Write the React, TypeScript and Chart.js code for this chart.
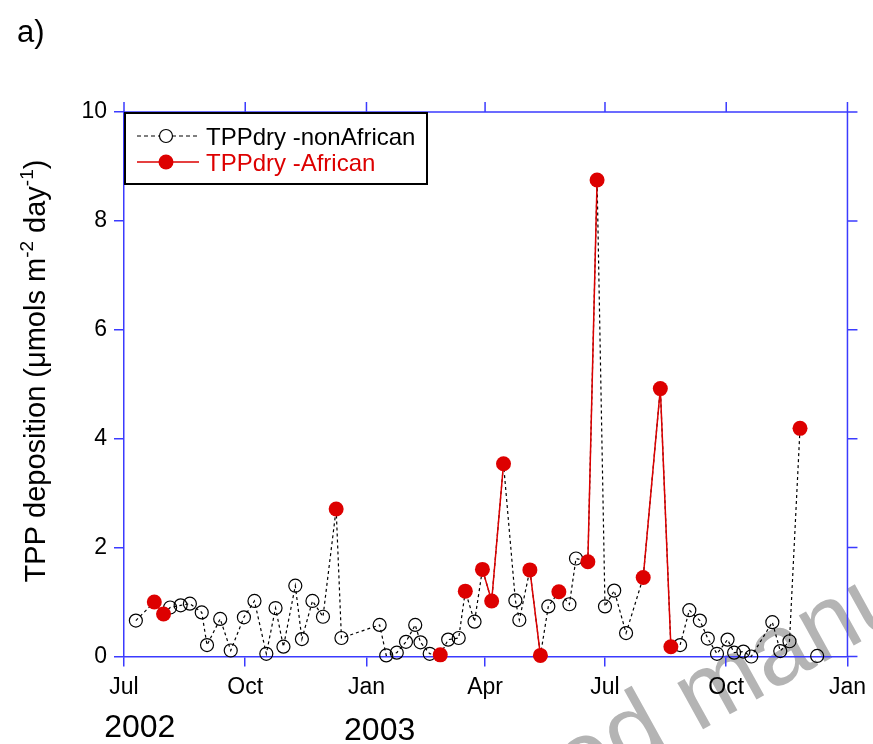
import React, { useEffect, useRef } from "react";
import { Chart, registerables } from "chart.js";

Chart.register(...registerables);

// ---- data ----
const sampleDates = [
  "2002-07-10", "2002-07-24", "2002-07-31", "2002-08-05", "2002-08-13", "2002-08-20",
  "2002-08-29", "2002-09-02", "2002-09-12", "2002-09-20", "2002-09-30", "2002-10-08",
  "2002-10-17", "2002-10-24", "2002-10-30", "2002-11-08", "2002-11-13", "2002-11-21",
  "2002-11-29", "2002-12-09", "2002-12-13", "2003-01-11", "2003-01-16", "2003-01-24",
  "2003-01-31", "2003-02-07", "2003-02-11", "2003-02-18", "2003-02-26", "2003-03-04",
  "2003-03-12", "2003-03-17", "2003-03-24", "2003-03-30", "2003-04-06", "2003-04-15",
  "2003-04-24", "2003-04-27", "2003-05-05", "2003-05-13", "2003-05-19", "2003-05-27",
  "2003-06-04", "2003-06-09", "2003-06-18", "2003-06-25", "2003-07-01", "2003-07-08",
  "2003-07-17", "2003-07-30", "2003-08-12", "2003-08-20", "2003-08-27", "2003-09-03",
  "2003-09-11", "2003-09-17", "2003-09-24", "2003-10-02", "2003-10-07", "2003-10-14",
  "2003-10-20", "2003-11-05", "2003-11-11", "2003-11-18", "2003-11-26", "2003-12-09",
];
const tppValues = [
  0.66, 1.0, 0.78, 0.9, 0.94, 0.97,
  0.81, 0.21, 0.69, 0.11, 0.72, 1.02,
  0.05, 0.89, 0.18, 1.3, 0.32, 1.02,
  0.73, 2.71, 0.34, 0.58, 0.02, 0.07,
  0.27, 0.58, 0.26, 0.05, 0.03, 0.31,
  0.34, 1.2, 0.64, 1.6, 1.02, 3.54,
  1.03, 0.67, 1.59, 0.02, 0.92, 1.19,
  0.96, 1.8, 1.74, 8.75, 0.92, 1.21,
  0.43, 1.45, 4.92, 0.18, 0.21, 0.85,
  0.66, 0.33, 0.05, 0.31, 0.07, 0.09,
  0.0, 0.63, 0.1, 0.28, 4.19, 0.01,
];
// 1 = African air-mass sample
const africanFlags = [
  0, 1, 1, 0, 0, 0,
  0, 0, 0, 0, 0, 0,
  0, 0, 0, 0, 0, 0,
  0, 1, 0, 0, 0, 0,
  0, 0, 0, 0, 1, 0,
  0, 1, 0, 1, 1, 1,
  0, 0, 1, 1, 0, 1,
  0, 0, 1, 1, 0, 0,
  0, 1, 1, 1, 0, 0,
  0, 0, 0, 0, 0, 0,
  0, 0, 0, 0, 1, 0,
];
// index of samples where the dotted line is interrupted before the point
const lineBreaksBefore = [65];

const originDate = "2002-07-01";
const xTickDates = ["2002-07-01", "2002-10-01", "2003-01-01", "2003-04-01", "2003-07-01", "2003-10-01", "2004-01-01"];
const xTickLabels = ["Jul", "Oct", "Jan", "Apr", "Jul", "Oct", "Jan"];
const yearLabels = ["2002", "2003"];
const yearLabelDates = ["2002-07-13", "2003-01-11"];
const yMin = 0;
const yMax = 10;
const yStep = 2;

const seriesNames = ["TPPdry -nonAfrican", "TPPdry -African"];
const yTitleParts = [
  { t: "TPP deposition (\u03bcmols m", sup: false },
  { t: "-2", sup: true },
  { t: " day", sup: false },
  { t: "-1", sup: true },
  { t: ")", sup: false },
];

// ---- styling ----
const FONT = "'Liberation Sans', Arial, sans-serif";
const BLUE = "#3b3bff";
const RED = "#dd0000";

function dayOf(s: string) {
  const [y, m, d] = s.split("-").map(Number);
  const [y0, m0, d0] = originDate.split("-").map(Number);
  return Math.round((Date.UTC(y, m - 1, d) - Date.UTC(y0, m0 - 1, d0)) / 86400000);
}

const xTickDays = xTickDates.map(dayOf);

function buildData() {
  const black: any[] = [];
  const blackRadius: number[] = [];
  const red: any[] = [];
  sampleDates.forEach((d, i) => {
    const x = dayOf(d);
    if (lineBreaksBefore.includes(i)) {
      const px = dayOf(sampleDates[i - 1]);
      black.push({ x: (x + px) / 2, y: null });
      blackRadius.push(0);
    }
    black.push({ x, y: tppValues[i] });
    blackRadius.push(africanFlags[i] ? 0 : 6.5);
    red.push({ x, y: africanFlags[i] ? tppValues[i] : null });
  });
  return { black, blackRadius, red };
}

const decorPlugin = {
  id: "decor",
  beforeDraw(chart: any) {
    const ctx = chart.ctx;
    ctx.save();
    ctx.fillStyle = "#ffffff";
    ctx.fillRect(0, 0, chart.width, chart.height);
    // watermark
    ctx.translate(308, 948);
    ctx.rotate((-29 * Math.PI) / 180);
    ctx.font = `100px ${FONT}`;
    ctx.fillStyle = "#b4b4b4";
    ctx.textBaseline = "alphabetic";
    ctx.fillText("Accepted manuscript", 0, 0);
    ctx.restore();
  },
  afterDraw(chart: any) {
    const ctx = chart.ctx;
    const { left, right, top, bottom } = chart.chartArea;
    const xs = chart.scales.x;
    const ys = chart.scales.y;
    ctx.save();
    // top and right axes
    ctx.strokeStyle = BLUE;
    ctx.lineWidth = 1.5;
    ctx.beginPath();
    ctx.moveTo(left, top);
    ctx.lineTo(right, top);
    ctx.moveTo(right, top);
    ctx.lineTo(right, bottom);
    xTickDays.forEach((d) => {
      const px = xs.getPixelForValue(d);
      ctx.moveTo(px, top);
      ctx.lineTo(px, top - 10);
    });
    for (let v = yMin; v <= yMax; v += yStep) {
      const py = ys.getPixelForValue(v);
      ctx.moveTo(right, py);
      ctx.lineTo(right + 10, py);
    }
    ctx.stroke();

    // y title
    ctx.fillStyle = "#000";
    ctx.textBaseline = "alphabetic";
    const mainFont = `29px ${FONT}`;
    const supFont = `19px ${FONT}`;
    let total = 0;
    yTitleParts.forEach((p) => {
      ctx.font = p.sup ? supFont : mainFont;
      total += ctx.measureText(p.t).width;
    });
    ctx.save();
    ctx.translate(45, 371);
    ctx.rotate(-Math.PI / 2);
    let cx = -total / 2;
    yTitleParts.forEach((p) => {
      ctx.font = p.sup ? supFont : mainFont;
      ctx.fillText(p.t, cx, p.sup ? -12 : 0);
      cx += ctx.measureText(p.t).width;
    });
    ctx.restore();

    // panel label
    ctx.font = `31px ${FONT}`;
    ctx.textAlign = "left";
    ctx.fillText("a)", 17, 42);

    // year labels
    ctx.font = `32px ${FONT}`;
    ctx.textAlign = "center";
    yearLabels.forEach((lab, i) => {
      const px = xs.getPixelForValue(dayOf(yearLabelDates[i]));
      ctx.fillText(lab, px, 737 + i * 3);
    });

    // legend
    const lx = left, ly = top, lw = 303, lh = 72;
    ctx.fillStyle = "#fff";
    ctx.fillRect(lx, ly, lw, lh);
    ctx.strokeStyle = "#000";
    ctx.lineWidth = 2;
    ctx.strokeRect(lx + 1, ly + 1, lw - 1, lh - 1);
    // entry 1
    ctx.lineWidth = 1.2;
    ctx.setLineDash([4, 3]);
    ctx.beginPath();
    ctx.moveTo(lx + 13, ly + 24);
    ctx.lineTo(lx + 75, ly + 24);
    ctx.stroke();
    ctx.setLineDash([]);
    ctx.beginPath();
    ctx.arc(lx + 42, ly + 24, 6.5, 0, Math.PI * 2);
    ctx.fillStyle = "#fff";
    ctx.fill();
    ctx.stroke();
    ctx.font = `24px ${FONT}`;
    ctx.textAlign = "left";
    ctx.fillStyle = "#000";
    ctx.fillText(seriesNames[0], lx + 82, ly + 33);
    // entry 2
    ctx.strokeStyle = RED;
    ctx.lineWidth = 1.5;
    ctx.beginPath();
    ctx.moveTo(lx + 13, ly + 50);
    ctx.lineTo(lx + 75, ly + 50);
    ctx.stroke();
    ctx.beginPath();
    ctx.arc(lx + 42, ly + 50, 7.5, 0, Math.PI * 2);
    ctx.fillStyle = RED;
    ctx.fill();
    ctx.fillText(seriesNames[1], lx + 82, ly + 59);
    ctx.restore();
  },
};

export default function App() {
  const ref = useRef<HTMLCanvasElement>(null);
  useEffect(() => {
    const { black, blackRadius, red } = buildData();
    const chart = new Chart(ref.current as HTMLCanvasElement, {
      type: "line",
      data: {
        datasets: [
          {
            label: seriesNames[1],
            data: red,
            borderColor: RED,
            borderWidth: 1.5,
            backgroundColor: RED,
            pointBackgroundColor: RED,
            pointBorderColor: RED,
            pointBorderWidth: 0,
            pointRadius: 7.5,
            spanGaps: false,
            tension: 0,
            order: 0,
            clip: false as any,
          },
          {
            label: seriesNames[0],
            data: black,
            borderColor: "#000",
            borderWidth: 1.2,
            borderDash: [3, 3],
            pointBackgroundColor: "rgba(0,0,0,0)",
            pointBorderColor: "#000",
            pointBorderWidth: 1.2,
            pointRadius: blackRadius,
            spanGaps: false,
            tension: 0,
            order: 1,
            clip: false as any,
          },
        ],
      },
      options: {
        responsive: false,
        animation: false,
        devicePixelRatio: 1,
        events: [],
        layout: { padding: { top: 112, right: 25, left: 0, bottom: 0 }, autoPadding: false },
        plugins: { legend: { display: false }, tooltip: { enabled: false }, title: { display: false } },
        scales: {
          x: {
            type: "linear",
            min: xTickDays[0],
            max: xTickDays[xTickDays.length - 1],
            afterBuildTicks: (s: any) => {
              s.ticks = xTickDays.map((v) => ({ value: v }));
            },
            afterFit: (s: any) => {
              s.height = 87.5;
            },
            ticks: {
              autoSkip: false,
              maxRotation: 0,
              padding: 7,
              color: "#000",
              font: { family: FONT, size: 23 },
              callback: (v: any) => xTickLabels[xTickDays.indexOf(Number(v))] ?? "",
            },
            grid: { drawOnChartArea: false, drawTicks: true, tickLength: 10, color: BLUE, lineWidth: 1.5 },
            border: { color: BLUE, width: 1.5 },
          },
          y: {
            type: "linear",
            min: yMin,
            max: yMax,
            afterFit: (s: any) => {
              s.width = 124;
            },
            ticks: {
              stepSize: yStep,
              padding: 7,
              color: "#000",
              font: { family: FONT, size: 23 },
            },
            grid: { drawOnChartArea: false, drawTicks: true, tickLength: 10, color: BLUE, lineWidth: 1.5 },
            border: { color: BLUE, width: 1.5 },
          },
        },
      },
      plugins: [decorPlugin],
    } as any);
    return () => chart.destroy();
  }, []);
  return (
    <div style={{ position: "fixed", left: 0, top: 0, width: 873, height: 744, background: "#fff" }}>
      <canvas ref={ref} width={873} height={744} style={{ width: 873, height: 744, display: "block" }} />
    </div>
  );
}
